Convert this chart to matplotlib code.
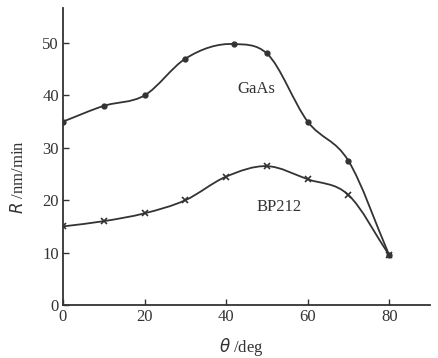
import numpy as np
import matplotlib
matplotlib.use("Agg")
import matplotlib.pyplot as plt
from matplotlib.path import Path
from matplotlib.patches import PathPatch

theta = [0, 10, 20, 30, 42, 50, 60, 70, 80]
gaas = [35, 38, 40, 47, 49.8, 48, 35, 27.5, 9.5]
theta_bp = [0, 10, 20, 30, 40, 50, 60, 70, 80]
bp212 = [15, 16, 17.5, 20, 24.5, 26.5, 24, 21, 9.5]

plt.rcParams['font.family'] = ['Liberation Serif', 'DejaVu Serif']
ink = '#333333'


def smooth_path(x, y):
    # hermite curve through the points, drawn as cubic bezier segments
    x = np.asarray(x, float)
    y = np.asarray(y, float)
    m = np.gradient(y, x)
    verts = [(x[0], y[0])]
    codes = [Path.MOVETO]
    for i in range(len(x) - 1):
        h = (x[i + 1] - x[i]) / 3
        verts += [(x[i] + h, y[i] + m[i] * h),
                  (x[i + 1] - h, y[i + 1] - m[i + 1] * h),
                  (x[i + 1], y[i + 1])]
        codes += [Path.CURVE4] * 3
    return Path(verts, codes)


fig = plt.figure(figsize=(4.39, 3.58), dpi=100)
ax = fig.add_axes([0.1435, 0.148, 0.836, 0.83])

for x, y in [(theta, gaas), (theta_bp, bp212)]:
    ax.add_patch(PathPatch(smooth_path(x, y), fill=False, color=ink, lw=1.3))

ax.plot(theta, gaas, 'o', color=ink, ms=3.5)
ax.plot(theta_bp, bp212, 'x', color=ink, ms=4, mew=1.2)

ax.text(47.5, 40.5, 'GaAs', fontsize=12, color=ink, ha='center')
ax.text(53, 18, 'BP212', fontsize=12, color=ink, ha='center')

ax.set_xlim(0, 90)
ax.set_ylim(0, 56.7)
ax.set_xticks([0, 20, 40, 60, 80])
ax.set_yticks([0, 10, 20, 30, 40, 50])
ax.tick_params(direction='in', length=4, width=1, colors=ink, labelsize=12, pad=3)
for s in ['top', 'right']:
    ax.spines[s].set_visible(False)
for s in ['left', 'bottom']:
    ax.spines[s].set_color(ink)
    ax.spines[s].set_linewidth(1.3)

ax.set_xlabel(r'$\theta$ /deg', fontsize=12, color=ink)
ax.xaxis.set_label_coords(0.486, -0.105)
ax.set_ylabel(r'$R$ /nm/min', fontsize=12, color=ink)
ax.yaxis.set_label_coords(-0.098, 0.43)

fig.savefig('out.png', dpi=100)
